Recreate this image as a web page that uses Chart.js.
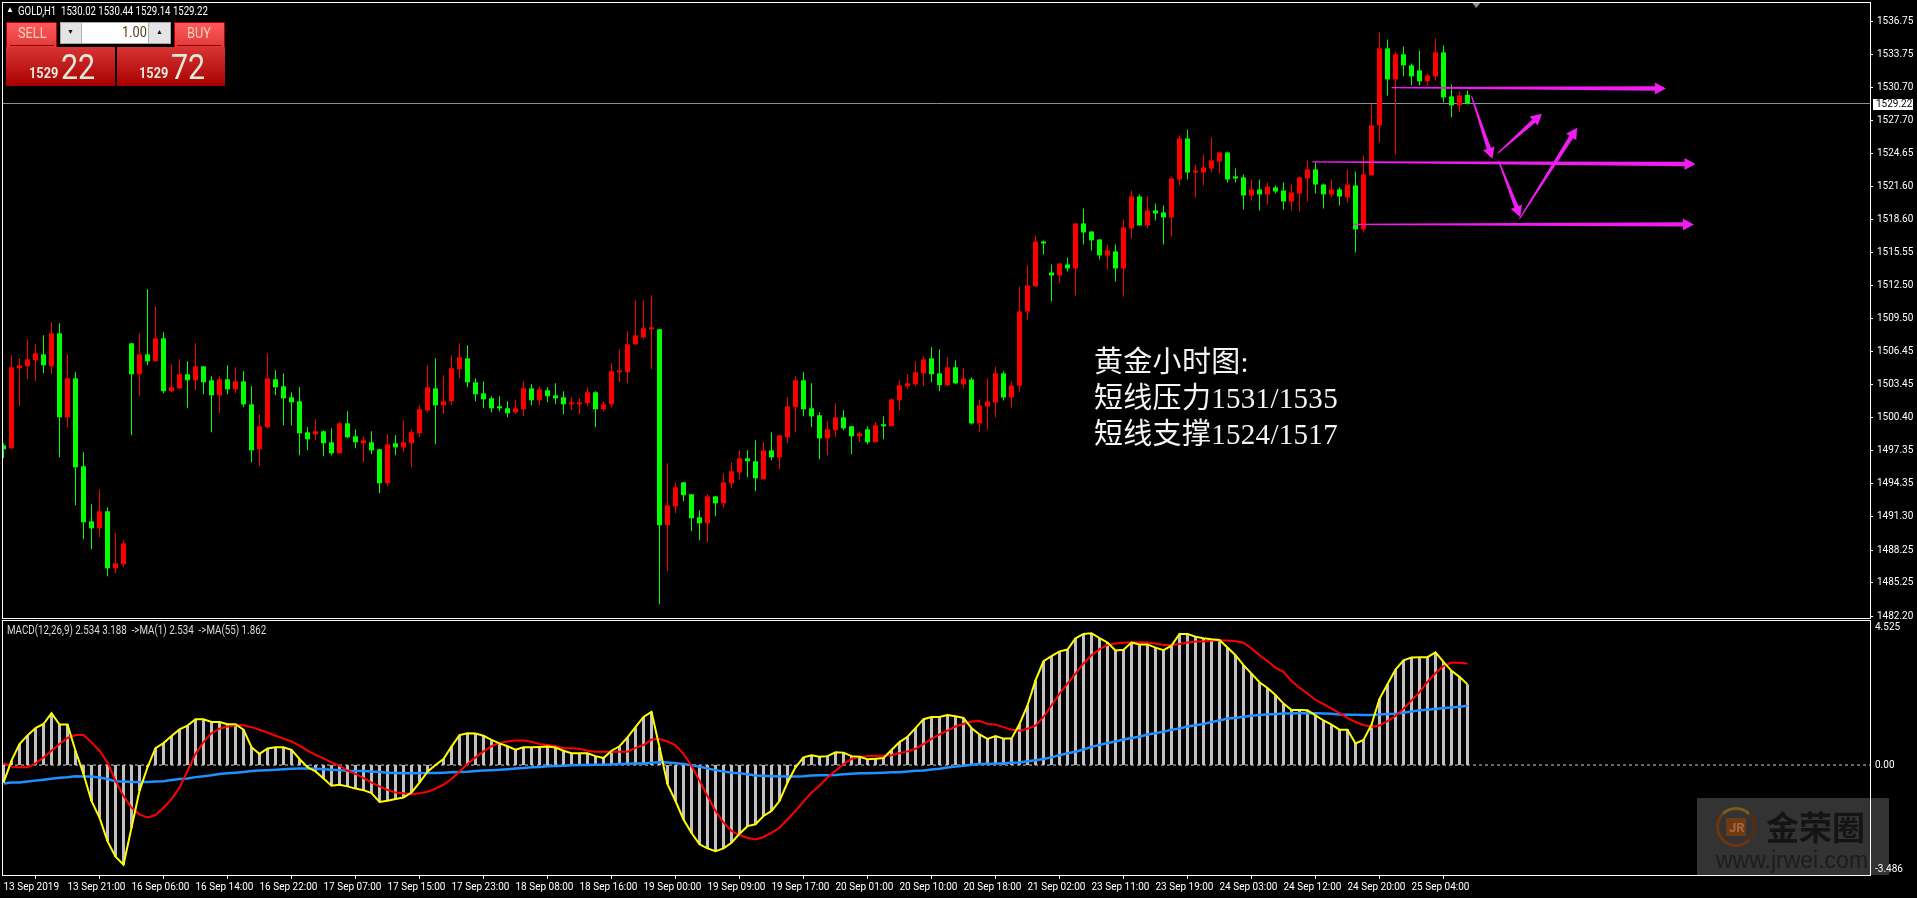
<!DOCTYPE html>
<html>
<head>
<meta charset="utf-8">
<title>GOLD,H1</title>
<script src="https://cdn.jsdelivr.net/npm/chart.js@4"></script>
<style>
  html, body { margin: 0; padding: 0; background: #000; overflow: hidden; width: 1917px; height: 898px; }
  canvas { position: absolute; left: 0; }
  .txt { position: absolute; white-space: pre; font-family: Roboto, sans-serif; line-height: 1; transform-origin: 0 0; }
  .box { position: absolute; box-sizing: border-box; }
  .note { position: absolute; left: 1094px; color: #f4f4f4; font: 29px/36px 'Liberation Serif', 'Noto Sans CJK SC', serif; white-space: pre; letter-spacing: .3px; }
</style>
</head>
<body>
<canvas id="price" width="1917" height="620" style="top:0"></canvas>
<canvas id="macd" width="1917" height="278" style="top:620px"></canvas>

<div class="txt" style="left:6px;top:6px;color:#fff;font-size:8px">▲</div>
<div class="txt" id="header" style="left:18px;top:5px;color:#fff;font-size:12px;transform:scaleX(.8)"></div>
<div class="txt" id="macdTitle" style="left:7px;top:624px;color:#dcdcdc;font-size:12px;transform:scaleX(.815)"></div>

<div class="box" style="left:6px;top:22px;width:51px;height:25px;background:linear-gradient(#ff5a5a,#e23a3a);border:1px solid #b40000;border-bottom:0"></div>
<div class="box" style="left:10px;top:45px;width:44px;height:1px;background:#8c0000"></div>
<div class="txt" style="left:18px;top:26px;color:#f6cfc0;font-size:15px;transform:scaleX(.85)">SELL</div>
<div class="box" style="left:174px;top:22px;width:51px;height:25px;background:linear-gradient(#ff5a5a,#e23a3a);border:1px solid #b40000;border-bottom:0"></div>
<div class="box" style="left:177px;top:45px;width:44px;height:1px;background:#8c0000"></div>
<div class="txt" style="left:187px;top:26px;color:#f6cfc0;font-size:15px;transform:scaleX(.85)">BUY</div>

<div class="box" style="left:60px;top:22px;width:111px;height:22px;background:#e4e4e4;border:1px solid #a8a8a8"></div>
<div class="box" style="left:81px;top:23px;width:68px;height:20px;background:#fff;border-left:1px solid #b0b0b0;border-right:1px solid #b0b0b0"></div>
<div class="txt" style="left:67px;top:29px;color:#111;font-size:7px">▼</div>
<div class="txt" style="left:156px;top:29px;color:#111;font-size:7px">▲</div>
<div class="txt" style="left:122px;top:25px;color:#5a3a10;font-size:15px;transform:scaleX(.85)">1.00</div>

<div class="box" style="left:6px;top:47px;width:109px;height:39px;background:linear-gradient(#d83434,#a80000)"></div>
<div class="box" style="left:117px;top:47px;width:108px;height:39px;background:linear-gradient(#d83434,#a80000)"></div>
<div class="txt" style="left:29px;top:66px;color:#e4ecdc;font-size:15px;font-weight:bold;transform:scaleX(.85)">1529</div>
<div class="txt" style="left:61px;top:50px;color:#dfe9d8;font-size:35px;transform:scaleX(.87)">22</div>
<div class="txt" style="left:139px;top:66px;color:#e4ecdc;font-size:15px;font-weight:bold;transform:scaleX(.85)">1529</div>
<div class="txt" style="left:171px;top:50px;color:#dfe9d8;font-size:35px;transform:scaleX(.87)">72</div>

<div class="note" style="top:344px">黄金小时图:</div>
<div class="note" style="top:380px">短线压力1531/1535</div>
<div class="note" style="top:416px">短线支撑1524/1517</div>

<div class="box" style="left:1697px;top:798px;width:192px;height:77px;background:rgba(255,255,255,0.2)"></div>
<div class="box" style="left:1716px;top:807px;width:40px;height:40px;border-radius:50%;border:3px solid #6e3610;border-right-color:#5a2c0c;border-top-color:#7a5a14"></div>
<div class="box" style="left:1726px;top:818px;width:20px;height:18px;background:#6e3a14"></div>
<div class="txt" style="left:1729px;top:821px;color:#a8683a;font-size:13px;font-weight:bold">JR</div>
<div class="txt" style="left:1766px;top:810px;color:#141414;font:bold 33px/1 'Noto Sans CJK SC', sans-serif">金荣圈</div>
<div class="txt" style="left:1716px;top:849px;color:#1c1c1c;font:23px/1 'Liberation Sans', sans-serif">www.jrwei.com</div>

<script>
// values, one entry per hourly bar
const opens = [
  1497.86,1497.59,1504.93,1505.11,1505.66,1506.21,1505.11,1508.14,1500.43,1504.01,
  1495.94,1490.89,1490.25,1491.81,1486.58,1486.95,1507.22,1504.38,1506.21,1505.57,
  1507.68,1502.82,1503.09,1504.38,1503.83,1505.11,1503.83,1502.45,1503.92,1503.00,
  1503.73,1501.62,1497.50,1499.51,1503.92,1503.28,1502.27,1501.90,1499.06,1498.87,
  1499.15,1498.14,1497.13,1499.88,1498.69,1498.05,1498.14,1497.50,1494.38,1498.05,
  1497.68,1498.05,1498.96,1501.07,1503.09,1501.53,1501.90,1504.84,1505.84,1503.64,
  1502.63,1502.17,1501.35,1501.26,1500.89,1501.17,1503.09,1501.99,1502.91,1502.45,
  1502.27,1501.62,1501.62,1501.72,1502.73,1501.17,1501.62,1504.56,1504.56,1507.13,
  1507.77,1508.50,1508.50,1490.52,1492.27,1494.47,1493.37,1491.26,1490.71,1493.18,
  1492.54,1494.38,1495.39,1496.67,1496.40,1494.74,1497.40,1496.76,1498.60,1501.35,
  1503.83,1501.26,1500.62,1498.50,1499.24,1500.43,1499.61,1498.69,1499.33,1498.14,
  1499.70,1499.61,1501.99,1503.28,1503.46,1504.47,1505.84,1504.47,1503.37,1505.02,
  1503.45,1503.90,1499.87,1501.43,1501.79,1504.46,1502.25,1503.35,1510.14,1512.44,
  1516.56,1513.72,1513.45,1514.45,1514.09,1518.22,1517.48,1516.75,1515.28,1515.65,
  1514.09,1517.76,1520.69,1518.03,1519.41,1519.23,1518.77,1522.25,1526.01,1522.89,
  1522.89,1523.26,1523.90,1524.73,1522.53,1522.44,1520.78,1521.33,1520.88,1521.52,
  1521.24,1520.23,1520.97,1522.34,1523.17,1521.79,1520.88,1521.33,1520.60,1521.70,
  1517.67,1522.63,1527.21,1534.28,1531.43,1533.73,1532.72,1532.26,1531.25,1531.71,
  1533.91,1529.87,1529.05,1530.02
];
const highs = [
  1498.02,1506.12,1505.84,1507.59,1507.13,1507.95,1509.15,1509.06,1506.21,1504.56,
  1497.22,1492.45,1493.83,1492.17,1489.79,1489.15,1507.22,1508.14,1512.17,1510.61,
  1508.23,1505.29,1505.75,1505.57,1507.22,1505.11,1504.19,1504.19,1505.20,1505.02,
  1504.65,1503.28,1500.71,1506.30,1504.74,1504.47,1502.73,1503.18,1499.51,1500.25,
  1499.24,1499.42,1499.97,1500.98,1499.33,1498.69,1499.15,1497.50,1498.87,1498.78,
  1500.16,1499.33,1501.53,1505.20,1505.84,1504.28,1506.12,1507.22,1507.04,1504.01,
  1503.73,1502.36,1502.36,1501.90,1501.99,1503.73,1503.46,1503.28,1503.18,1503.55,
  1502.82,1502.27,1502.17,1503.18,1502.82,1501.90,1505.39,1506.67,1508.32,1511.17,
  1511.17,1511.62,1508.50,1496.21,1494.47,1494.47,1493.37,1491.90,1493.37,1493.18,
  1495.29,1496.30,1497.40,1497.40,1498.32,1498.14,1499.06,1498.78,1502.27,1504.19,
  1504.56,1503.55,1500.89,1500.06,1501.72,1501.07,1499.61,1499.15,1499.61,1499.97,
  1500.52,1502.17,1503.83,1504.38,1505.57,1506.03,1506.85,1506.67,1505.94,1505.66,
  1504.91,1504.09,1502.07,1503.99,1505.10,1504.64,1503.72,1512.44,1514.36,1517.11,
  1516.66,1514.45,1514.55,1515.10,1518.22,1519.59,1517.48,1516.75,1516.29,1516.29,
  1518.58,1521.24,1520.88,1520.69,1520.05,1519.87,1522.53,1526.29,1526.84,1523.63,
  1524.55,1526.11,1524.82,1524.82,1523.26,1522.71,1522.25,1522.25,1521.98,1521.70,
  1521.98,1521.79,1522.53,1524.00,1523.81,1521.89,1522.25,1521.52,1523.17,1522.99,
  1524.45,1529.14,1535.74,1535.10,1534.00,1534.46,1532.90,1534.09,1531.98,1535.19,
  1534.55,1530.97,1530.33,1530.44
];
const lows = [
  1496.70,1497.50,1501.44,1503.92,1503.73,1504.47,1504.38,1496.76,1499.51,1492.36,
  1489.24,1488.32,1489.42,1485.84,1486.12,1486.67,1498.78,1502.36,1505.20,1505.57,
  1502.63,1502.73,1503.00,1501.26,1502.91,1502.54,1499.06,1500.80,1502.54,1502.63,
  1501.35,1496.30,1495.94,1499.42,1502.45,1499.70,1499.70,1496.95,1497.40,1498.32,
  1496.85,1496.95,1497.13,1498.50,1497.59,1496.30,1497.04,1493.46,1494.10,1496.95,
  1497.22,1495.84,1498.60,1500.89,1497.95,1500.71,1501.53,1504.01,1503.18,1501.90,
  1501.26,1500.89,1500.98,1500.43,1500.71,1500.52,1501.53,1501.53,1501.81,1501.62,
  1500.71,1501.07,1500.71,1501.44,1499.51,1500.98,1501.35,1503.64,1503.55,1507.04,
  1507.59,1504.84,1483.28,1486.30,1491.62,1492.73,1489.97,1489.15,1488.96,1491.35,
  1492.08,1493.92,1494.74,1494.93,1493.64,1494.74,1496.49,1495.66,1498.05,1499.06,
  1500.52,1499.51,1496.58,1496.95,1498.60,1499.24,1497.04,1498.14,1497.95,1498.14,
  1498.41,1499.61,1501.07,1503.00,1503.28,1503.28,1503.64,1502.82,1503.28,1503.46,
  1503.08,1499.78,1499.07,1499.32,1500.42,1501.98,1501.34,1502.80,1509.41,1512.44,
  1515.37,1511.06,1512.80,1513.81,1511.61,1516.29,1515.74,1514.91,1514.00,1512.90,
  1511.52,1516.84,1518.03,1517.76,1518.49,1516.29,1517.02,1521.70,1522.25,1520.60,
  1521.70,1522.89,1522.80,1521.98,1521.98,1519.50,1520.33,1519.41,1519.96,1520.97,
  1519.50,1519.41,1519.32,1520.23,1520.97,1519.59,1520.60,1519.87,1520.14,1515.56,
  1517.39,1522.63,1525.65,1529.96,1524.55,1531.71,1530.88,1530.88,1530.88,1531.34,
  1529.32,1527.95,1528.41,1529.14
];
const closes = [
  1497.50,1505.02,1505.20,1505.75,1506.30,1505.20,1508.14,1500.43,1504.01,1495.84,
  1490.80,1490.25,1491.81,1486.58,1487.04,1488.87,1504.38,1506.21,1505.57,1507.68,
  1502.82,1503.18,1504.38,1503.83,1505.11,1503.64,1502.45,1503.92,1503.00,1503.73,
  1501.62,1497.40,1499.61,1504.01,1503.18,1502.17,1501.81,1498.96,1498.41,1499.15,
  1498.05,1497.13,1499.88,1498.60,1498.14,1498.32,1497.40,1494.38,1497.95,1497.68,
  1498.14,1499.06,1501.17,1503.18,1501.53,1501.90,1504.93,1505.94,1503.64,1502.54,
  1502.08,1501.26,1501.26,1500.80,1501.26,1503.09,1501.99,1503.00,1502.36,1502.17,
  1501.62,1501.72,1501.81,1502.73,1501.17,1501.62,1504.65,1504.74,1507.13,1507.95,
  1508.60,1508.69,1490.52,1492.36,1494.01,1493.28,1491.17,1490.71,1493.18,1492.54,
  1494.47,1495.48,1496.67,1496.40,1494.84,1497.40,1496.76,1498.78,1501.44,1503.83,
  1501.17,1500.52,1498.50,1499.33,1500.43,1499.42,1498.69,1498.96,1498.14,1499.70,
  1499.61,1502.08,1503.37,1503.55,1504.56,1505.75,1504.38,1503.37,1505.02,1503.55,
  1503.99,1499.87,1501.52,1501.89,1504.46,1502.25,1503.35,1510.14,1512.53,1516.56,
  1516.38,1513.45,1514.55,1514.09,1518.22,1517.39,1516.66,1515.28,1515.74,1514.09,
  1517.85,1520.69,1518.03,1519.41,1519.13,1518.77,1522.34,1526.01,1522.89,1522.99,
  1523.35,1524.00,1524.73,1522.25,1522.34,1520.78,1521.33,1520.88,1521.61,1521.15,
  1520.23,1521.06,1522.44,1523.17,1521.79,1520.88,1521.33,1520.69,1521.79,1517.67,
  1522.71,1527.21,1534.28,1531.43,1533.73,1532.72,1531.71,1531.25,1531.80,1533.91,
  1529.78,1529.05,1529.96,1529.22
];
const macdValues = [
  -0.55,0.14,0.66,0.93,1.16,1.29,1.63,1.27,1.27,0.45,
  -0.28,-1.13,-1.65,-2.39,-2.88,-3.13,-1.97,-0.81,-0.07,0.53,
  0.69,0.91,1.12,1.24,1.44,1.44,1.35,1.35,1.28,1.28,
  1.11,0.56,0.35,0.52,0.56,0.56,0.48,0.19,-0.07,-0.20,
  -0.42,-0.65,-0.62,-0.67,-0.74,-0.79,-0.88,-1.16,-1.12,-1.07,
  -1.02,-0.86,-0.55,-0.21,0,0.19,0.58,0.94,1.00,0.99,
  0.92,0.79,0.68,0.59,0.48,0.56,0.56,0.57,0.58,0.55,
  0.45,0.37,0.37,0.37,0.28,0.22,0.45,0.59,0.87,1.19,
  1.51,1.67,0.56,-0.60,-1.13,-1.71,-2.13,-2.49,-2.62,-2.71,
  -2.62,-2.44,-2.16,-1.92,-1.86,-1.60,-1.44,-1.13,-0.55,-0.07,
  0.24,0.31,0.26,0.28,0.40,0.39,0.28,0.26,0.18,0.20,
  0.22,0.47,0.72,0.89,1.16,1.44,1.51,1.51,1.57,1.53,
  1.48,1.16,0.96,0.82,0.91,0.83,0.83,1.29,1.87,2.66,
  3.26,3.42,3.57,3.63,3.98,4.12,4.14,3.99,3.85,3.60,
  3.62,3.85,3.79,3.79,3.69,3.61,3.75,4.12,4.12,4.03,
  3.98,3.95,3.93,3.69,3.45,3.14,2.87,2.60,2.42,2.20,
  1.93,1.73,1.73,1.72,1.56,1.40,1.27,1.11,1.11,0.68,
  0.79,1.27,2.08,2.54,3.00,3.29,3.38,3.39,3.39,3.54,
  3.24,2.96,2.77,2.534
];
const signalValues = [
  0.06,-0.05,-0.07,-0.07,0.05,0.24,0.45,0.66,0.85,0.94,
  0.94,0.72,0.45,0.08,-0.49,-0.97,-1.34,-1.55,-1.65,-1.57,
  -1.34,-1.07,-0.71,-0.18,0.35,0.72,1.00,1.14,1.21,1.25,
  1.25,1.19,1.11,1.02,0.92,0.83,0.74,0.61,0.45,0.32,
  0.21,0.08,-0.02,-0.18,-0.28,-0.41,-0.55,-0.67,-0.78,-0.86,
  -0.89,-0.92,-0.89,-0.84,-0.74,-0.62,-0.44,-0.20,0.03,0.24,
  0.43,0.59,0.69,0.74,0.77,0.77,0.73,0.66,0.63,0.60,
  0.53,0.53,0.51,0.45,0.42,0.42,0.42,0.42,0.42,0.54,
  0.63,0.80,0.82,0.74,0.62,0.35,-0.02,-0.49,-0.97,-1.44,
  -1.81,-2.07,-2.20,-2.29,-2.34,-2.26,-2.13,-1.97,-1.71,-1.44,
  -1.15,-0.86,-0.65,-0.39,-0.18,0.03,0.19,0.26,0.28,0.29,
  0.29,0.31,0.37,0.43,0.51,0.66,0.82,0.96,1.08,1.21,
  1.29,1.37,1.38,1.29,1.27,1.19,1.11,1.08,1.14,1.24,
  1.51,1.87,2.24,2.56,2.87,3.19,3.45,3.64,3.77,3.82,
  3.84,3.86,3.86,3.85,3.82,3.77,3.77,3.80,3.85,3.88,
  3.88,3.91,3.91,3.91,3.89,3.84,3.66,3.45,3.27,3.06,
  2.93,2.64,2.43,2.24,2.05,1.91,1.77,1.63,1.48,1.35,
  1.26,1.20,1.24,1.38,1.54,1.77,2.03,2.29,2.61,2.89,
  3.11,3.21,3.21,3.188
];
const ma55Values = [
  -0.58,-0.55,-0.55,-0.52,-0.49,-0.46,-0.43,-0.40,-0.38,-0.35,
  -0.36,-0.36,-0.39,-0.44,-0.51,-0.52,-0.53,-0.53,-0.53,-0.52,
  -0.51,-0.47,-0.44,-0.42,-0.38,-0.35,-0.32,-0.28,-0.26,-0.24,
  -0.22,-0.19,-0.17,-0.16,-0.15,-0.13,-0.12,-0.11,-0.11,-0.12,
  -0.13,-0.15,-0.16,-0.18,-0.19,-0.19,-0.20,-0.22,-0.24,-0.25,
  -0.26,-0.26,-0.26,-0.25,-0.25,-0.24,-0.23,-0.22,-0.21,-0.19,
  -0.17,-0.16,-0.15,-0.13,-0.11,-0.09,-0.07,-0.06,-0.04,-0.03,
  -0.02,-0.01,0,0,0.01,0.01,0.02,0.03,0.04,0.05,
  0.05,0.07,0.09,0.08,0.06,0.03,-0.01,-0.05,-0.11,-0.16,
  -0.20,-0.24,-0.26,-0.29,-0.33,-0.34,-0.35,-0.36,-0.36,-0.36,
  -0.35,-0.33,-0.32,-0.32,-0.31,-0.29,-0.27,-0.26,-0.26,-0.25,
  -0.24,-0.23,-0.23,-0.20,-0.18,-0.17,-0.14,-0.12,-0.08,-0.05,
  -0.02,0.01,0.03,0.04,0.04,0.06,0.07,0.08,0.12,0.15,
  0.19,0.24,0.31,0.37,0.42,0.49,0.57,0.63,0.69,0.74,
  0.80,0.85,0.89,0.96,1.00,1.05,1.11,1.15,1.21,1.25,
  1.29,1.35,1.40,1.46,1.48,1.52,1.55,1.57,1.59,1.60,
  1.62,1.62,1.63,1.63,1.63,1.62,1.61,1.59,1.58,1.58,
  1.57,1.57,1.59,1.60,1.61,1.64,1.68,1.72,1.74,1.76,
  1.79,1.81,1.83,1.862
];

const priceTicks = [1536.75,1533.75,1530.70,1527.70,1524.65,1521.60,1518.60,1515.55,1512.50,1509.50,
  1506.45,1503.45,1500.40,1497.35,1494.35,1491.30,1488.25,1485.25,1482.20];
const timeLabels = ['13 Sep 2019','13 Sep 21:00','16 Sep 06:00','16 Sep 14:00','16 Sep 22:00','17 Sep 07:00',
  '17 Sep 15:00','17 Sep 23:00','18 Sep 08:00','18 Sep 16:00','19 Sep 00:00','19 Sep 09:00','19 Sep 17:00',
  '20 Sep 01:00','20 Sep 10:00','20 Sep 18:00','21 Sep 02:00','23 Sep 11:00','23 Sep 19:00','24 Sep 03:00',
  '24 Sep 12:00','24 Sep 20:00','25 Sep 04:00'];
const macdAxisLabels = ['4.525','0.00','-3.486'];
const lastPrice = 1529.22;

// hand drawn arrows: start bar, start price, end bar, end price
const arrowStartBars   = [173.5, 163.6, 168.7, 183.5, 186.8, 186.9, 189.5];
const arrowStartPrices = [1530.67, 1523.87, 1518.13, 1529.90, 1524.67, 1523.94, 1518.65];
const arrowEndBars     = [207.8, 211.5, 211.3, 186.1, 192.3, 189.6, 196.7];
const arrowEndPrices   = [1530.60, 1523.66, 1518.13, 1524.15, 1528.28, 1518.80, 1527.00];

document.getElementById('header').textContent = 'GOLD,H1  1530.02 1530.44 1529.14 1529.22';
document.getElementById('macdTitle').textContent = 'MACD(12,26,9) 2.534 3.188  ->MA(1) 2.534  ->MA(55) 1.862';

const labelFont = '10px Roboto, sans-serif';
const axisFont = { family: 'Roboto, sans-serif', size: 10 };
const xMin = -0.0625;
const xMax = xMin + 1867 / 8;
const axisWidth = 47;
const upColor = '#ff0000';
const downColor = '#00ff00';
const magenta = '#f01cf0';
const candleColors = closes.map((c, i) => (c >= opens[i] ? upColor : downColor));
const points = values => values.map((y, x) => ({ x, y }));

const frame = {
  id: 'frame',
  afterDraw(chart) {
    const { ctx, chartArea: a } = chart;
    ctx.save();
    ctx.strokeStyle = '#fff';
    ctx.lineWidth = 1;
    ctx.strokeRect(a.left - 0.5, a.top - 0.5, a.right - a.left + 1, chart.canvas.id === 'macd' ? a.bottom - a.top : a.bottom - a.top + 1);
    ctx.restore();
  }
};

function drawArrow(ctx, x0, y0, x1, y1) {
  const len = Math.hypot(x1 - x0, y1 - y0);
  const ux = (x1 - x0) / len, uy = (y1 - y0) / len;
  const nx = -uy, ny = ux;
  const bx = x1 - ux * 11, by = y1 - uy * 11;
  ctx.beginPath();
  ctx.moveTo(x0 + nx * 0.6, y0 + ny * 0.6);
  ctx.lineTo(bx + nx * 2.2, by + ny * 2.2);
  ctx.lineTo(bx + nx * 6, by + ny * 6);
  ctx.lineTo(x1, y1);
  ctx.lineTo(bx - nx * 6, by - ny * 6);
  ctx.lineTo(bx - nx * 2.2, by - ny * 2.2);
  ctx.lineTo(x0 - nx * 0.6, y0 - ny * 0.6);
  ctx.closePath();
  ctx.fill();
}

const priceExtras = {
  id: 'priceExtras',
  afterDraw(chart) {
    const { ctx, scales: { x, y } } = chart;
    ctx.save();
    ctx.fillStyle = magenta;
    arrowStartBars.forEach((b, i) => {
      drawArrow(ctx, x.getPixelForValue(b), y.getPixelForValue(arrowStartPrices[i]),
        x.getPixelForValue(arrowEndBars[i]), y.getPixelForValue(arrowEndPrices[i]));
    });
    // bid box on the price axis
    const py = y.getPixelForValue(lastPrice);
    ctx.fillStyle = '#fff';
    ctx.fillRect(1873, Math.round(py) - 5, 40, 11);
    ctx.fillStyle = '#000';
    ctx.font = labelFont;
    ctx.textBaseline = 'middle';
    ctx.fillText(lastPrice.toFixed(2), 1876, py + 0.5);
    // chart shift marker
    const mx = x.getPixelForValue(184.1);
    ctx.fillStyle = '#8a8f9a';
    ctx.beginPath();
    ctx.moveTo(mx - 4, 3);
    ctx.lineTo(mx + 4, 3);
    ctx.lineTo(mx, 8);
    ctx.closePath();
    ctx.fill();
    ctx.restore();
  }
};

const macdExtras = {
  id: 'macdExtras',
  afterDraw(chart) {
    const { ctx, chartArea: a, scales: { y } } = chart;
    ctx.save();
    ctx.fillStyle = '#fff';
    ctx.font = labelFont;
    ctx.textBaseline = 'middle';
    ctx.fillText(macdAxisLabels[0], 1875, a.top + 6);
    ctx.fillText(macdAxisLabels[1], 1875, y.getPixelForValue(0) + 0.5);
    ctx.fillText(macdAxisLabels[2], 1875, a.bottom - 7);
    ctx.restore();
  }
};

new Chart(document.getElementById('price'), {
  type: 'bar',
  data: {
    datasets: [
      {
        type: 'line', order: 5, borderColor: '#8891a0', borderWidth: 1, pointRadius: 0,
        data: [{ x: xMin, y: lastPrice }, { x: xMax, y: lastPrice }]
      },
      {
        order: 2, barThickness: 1, inflateAmount: 0, grouped: false, borderWidth: 0,
        backgroundColor: candleColors,
        data: lows.map((l, i) => ({ x: i, y: [l, highs[i]] }))
      },
      {
        order: 1, barThickness: 5, inflateAmount: 0, grouped: false, borderWidth: 0, minBarLength: 2,
        backgroundColor: candleColors,
        data: opens.map((o, i) => ({ x: i, y: [o, closes[i]] }))
      }
    ]
  },
  options: {
    responsive: false,
    animation: false,
    devicePixelRatio: 1,
    layout: { padding: { left: 3, top: 3, bottom: 2, right: 0 } },
    plugins: { legend: { display: false }, tooltip: { enabled: false } },
    scales: {
      x: { type: 'linear', display: false, offset: false, min: xMin, max: xMax },
      y: {
        position: 'right',
        min: 1482.02,
        max: 1538.44,
        afterBuildTicks: axis => { axis.ticks = priceTicks.map(value => ({ value })); },
        afterFit: axis => { axis.width = axisWidth; axis.paddingTop = 0; axis.paddingBottom = 0; },
        grid: { drawOnChartArea: false, tickLength: 3, tickColor: '#fff' },
        border: { display: false },
        ticks: { autoSkip: false, color: '#fff', font: axisFont, padding: 4, callback: v => v.toFixed(2) }
      }
    }
  },
  plugins: [frame, priceExtras]
});

new Chart(document.getElementById('macd'), {
  type: 'bar',
  data: {
    datasets: [
      {
        type: 'line', order: 1, borderColor: '#ffff00', borderWidth: 2, pointRadius: 0, tension: 0,
        data: points(macdValues)
      },
      {
        type: 'line', order: 2, borderColor: '#ff0000', borderWidth: 2, pointRadius: 0, tension: 0,
        data: points(signalValues)
      },
      {
        type: 'line', order: 3, borderColor: '#1e90ff', borderWidth: 2.5, pointRadius: 0, tension: 0,
        data: points(ma55Values)
      },
      {
        type: 'line', order: 4, borderColor: '#d0d0d0', borderWidth: 1, borderDash: [3, 3], pointRadius: 0,
        data: [{ x: xMin, y: 0 }, { x: xMax, y: 0 }]
      },
      {
        order: 5, barThickness: 3, inflateAmount: 0, borderWidth: 0, backgroundColor: '#c0c0c0',
        data: points(macdValues)
      }
    ]
  },
  options: {
    responsive: false,
    animation: false,
    devicePixelRatio: 1,
    layout: { padding: { left: 3, top: 1, bottom: 0, right: 0 } },
    plugins: { legend: { display: false }, tooltip: { enabled: false } },
    scales: {
      x: {
        type: 'linear',
        offset: false,
        min: xMin,
        max: xMax,
        afterBuildTicks: axis => { axis.ticks = timeLabels.map((_, i) => ({ value: i * 8 })); },
        afterFit: axis => { axis.height = 22; axis.paddingLeft = 0; axis.paddingRight = 0; },
        grid: { drawOnChartArea: false, tickLength: 3, tickColor: '#fff' },
        border: { display: false },
        ticks: {
          autoSkip: false, maxRotation: 0, align: 'start', color: '#fff', font: axisFont, padding: 2,
          callback: v => timeLabels[v / 8]
        }
      },
      y: {
        position: 'right',
        min: -3.486,
        max: 4.525,
        afterFit: axis => { axis.width = axisWidth; axis.paddingTop = 0; axis.paddingBottom = 0; },
        grid: { display: false },
        border: { display: false },
        ticks: { display: false }
      }
    }
  },
  plugins: [frame, macdExtras]
});
</script>
</body>
</html>
